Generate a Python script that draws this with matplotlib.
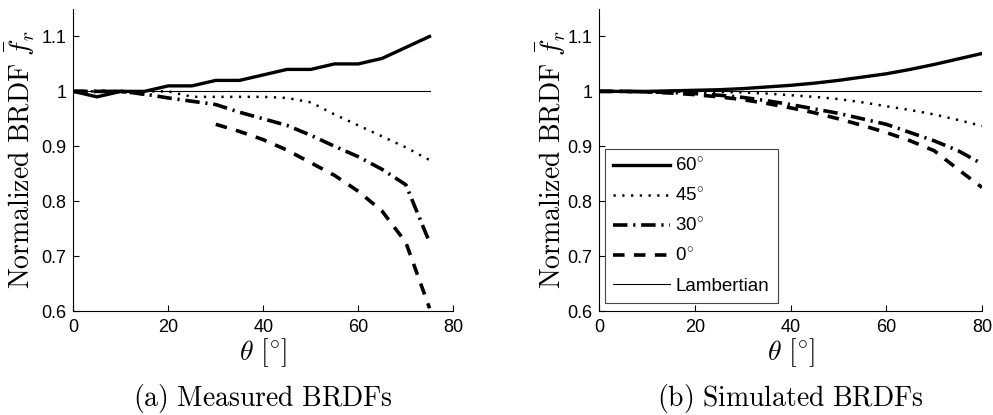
import numpy as np
import matplotlib
matplotlib.use("Agg")
import matplotlib.pyplot as plt

plt.rcParams['font.family'] = ['Liberation Sans', 'DejaVu Sans']
plt.rcParams['mathtext.fontset'] = 'cm'

# measured BRDFs, theta every 5 deg
theta_meas = [0, 5, 10, 15, 20, 25, 30, 35, 40, 45, 50, 55, 60, 65, 70, 75]
meas_60 = [1.0, 0.99, 1.0, 1.0, 1.01, 1.01, 1.02, 1.02, 1.03, 1.04, 1.04, 1.05, 1.05, 1.06, 1.08, 1.10]
meas_45 = [1.0, 1.0, 1.0, 1.0, 1.0, 0.99, 0.99, 0.99, 0.99, 0.988, 0.98, 0.958, 0.938, 0.918, 0.898, 0.875]
meas_30 = [1.0, 1.0, 1.0, 0.995, 0.988, 0.982, 0.976, 0.962, 0.95, 0.938, 0.92, 0.90, 0.881, 0.858, 0.83, 0.725]
meas_0 = [1.0, 1.0, 1.0, 0.995, np.nan, np.nan, 0.94, 0.927, 0.912, 0.893, 0.870, 0.847, 0.818, 0.782, 0.725, 0.605]

# simulated BRDFs
theta_sim = [0, 5, 10, 15, 20, 25, 30, 35, 40, 45, 50, 55, 60, 65, 70, 75, 80]
sim_60 = [1.0, 1.0, 1.0, 1.001, 1.002, 1.003, 1.005, 1.008, 1.011, 1.015, 1.020, 1.026, 1.032, 1.040, 1.049, 1.059, 1.069]
sim_45 = [1.0, 1.0, 1.0, 1.0, 0.999, 0.999, 0.998, 0.996, 0.993, 0.990, 0.986, 0.980, 0.973, 0.966, 0.958, 0.948, 0.937]
sim_30 = [1.0, 1.0, 0.999, 0.998, 0.996, 0.993, 0.989, 0.983, 0.976, 0.968, 0.960, 0.950, 0.940, 0.925, 0.910, 0.892, 0.868]
sim_0 = [1.0, 1.0, 0.999, 0.997, 0.994, 0.990, 0.985, 0.978, 0.970, 0.961, 0.950, 0.938, 0.925, 0.910, 0.892, 0.858, 0.825]

labels = [r'60$^{\circ}$', r'45$^{\circ}$', r'30$^{\circ}$', r'0$^{\circ}$', 'Lambertian']
yticks = [0.6, 0.7, 0.8, 0.9, 1.0, 1.1]
ytick_labels = ['0.6', '0.7', '0.8', '0.9', '1', '1.1']
xticks = [0, 20, 40, 60, 80]

styles = [
    dict(ls='-', lw=2.4),
    dict(ls=(0, (0.9, 2.6)), lw=1.8),
    dict(ls=(0, (4.0, 1.6, 0.6, 1.6)), lw=2.6),
    dict(ls=(0, (3.2, 2.6)), lw=2.6),
]

fig = plt.figure(figsize=(9.93, 4.15), dpi=100)
ax1 = fig.add_axes([0.0738, 0.2506, 0.3827, 0.7277])
ax2 = fig.add_axes([0.6035, 0.2506, 0.3854, 0.7277])

def draw(ax, x, series, xmax):
    lines = []
    for y, st in zip(series, styles):
        l, = ax.plot(x, y, color='black', dash_capstyle='butt', **st)
        lines.append(l)
    l, = ax.plot([0, xmax], [1, 1], color='black', lw=0.8)
    lines.append(l)
    ax.set_xlim(0, 80)
    ax.set_ylim(0.6, 1.15)
    ax.set_xticks(xticks)
    ax.set_yticks(yticks)
    ax.set_yticklabels(ytick_labels)
    ax.spines['top'].set_visible(False)
    ax.spines['right'].set_visible(False)
    ax.tick_params(direction='in', length=4, labelsize=13, width=0.8)
    ax.tick_params(axis='x', pad=6)
    ax.tick_params(axis='y', pad=5)
    ax.set_ylabel(r'$\mathrm{Normalized\ BRDF}\ \bar{f}_r$', fontsize=20)
    ax.set_xlabel(r'$\theta\ [^{\circ}]$', fontsize=20, va='top')
    ax.xaxis.set_label_coords(0.5, -0.083)
    return lines

draw(ax1, theta_meas, [meas_60, meas_45, meas_30, meas_0], 75)
lines = draw(ax2, theta_sim, [sim_60, sim_45, sim_30, sim_0], 80)
ax1.yaxis.set_label_coords(-0.095, 0.5)
ax2.yaxis.set_label_coords(-0.082, 0.5)

leg = ax2.legend(lines, labels, loc='lower left', bbox_to_anchor=(0.015, 0.026),
                 borderaxespad=0, fontsize=13.5, handlelength=3.0, labelspacing=0.62,
                 fancybox=False, framealpha=1, edgecolor='#444444', handletextpad=0.3,
                 borderpad=0.45)
leg.get_frame().set_linewidth(0.8)

fig.text(0.2652, 0.022, r'$\mathrm{(a)\ Measured\ BRDFs}$', ha='center', fontsize=20)
fig.text(0.7962, 0.022, r'$\mathrm{(b)\ Simulated\ BRDFs}$', ha='center', fontsize=20)

fig.savefig('out.png', dpi=100)
